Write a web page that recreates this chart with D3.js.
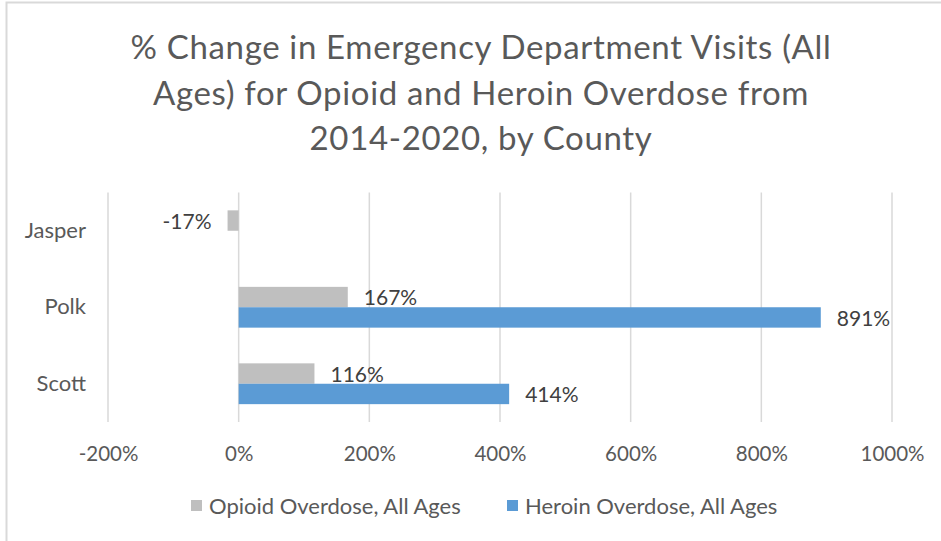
<!DOCTYPE html>
<html>
<head>
<meta charset="utf-8">
<script src="https://cdn.jsdelivr.net/npm/d3@7"></script>
<style>
  html, body { margin: 0; padding: 0; background: #fff; }
  svg { display: block; font-family: Lato, "Open Sans", sans-serif; }
</style>
</head>
<body>
<svg id="chart" width="941" height="541"></svg>
<script>
// County order top to bottom
const counties = ["Jasper", "Polk", "Scott"];
// % change 2014-2020 (null = no value reported)
const opioidValues = [-17, 167, 116];
const heroinValues = [null, 891, 414];
const seriesNames = ["Opioid Overdose, All Ages", "Heroin Overdose, All Ages"];
const seriesColors = ["#BFBFBF", "#5B9BD5"];
const xTicks = [-200, 0, 200, 400, 600, 800, 1000];
const titleLines = [
  "% Change in Emergency Department Visits (All",
  "Ages) for Opioid and Heroin Overdose from",
  "2014-2020, by County"
];

const svg = d3.select("#chart");

// Chart frame
svg.append("rect")
  .attr("x", 6.5).attr("y", 2.5)
  .attr("width", 960).attr("height", 560)
  .attr("fill", "#fff").attr("stroke", "#D9D9D9").attr("stroke-width", 2);

// Title
svg.append("g").selectAll("text")
  .data(titleLines)
  .join("text")
  .attr("x", 481)
  .attr("y", (d, i) => 59 + i * 45.5)
  .attr("text-anchor", "middle")
  .attr("font-size", 33)
  .attr("letter-spacing", 0.65)
  .attr("fill", "#595959")
  .text(d => d);

const plot = { left: 108, right: 892, top: 192.5, bottom: 422 };

const x = d3.scaleLinear().domain([-200, 1000]).range([plot.left, plot.right]);
const y = d3.scaleBand().domain(counties).range([plot.top, plot.bottom]).paddingInner(0).paddingOuter(0);
const barH = 20.4;

// Gridlines
svg.append("g").selectAll("line")
  .data(xTicks)
  .join("line")
  .attr("x1", d => x(d)).attr("x2", d => x(d))
  .attr("y1", plot.top).attr("y2", plot.bottom)
  .attr("stroke", "#D9D9D9").attr("stroke-width", 1.5);

// X axis labels
const xAxis = d3.axisBottom(x).tickValues(xTicks).tickSize(0).tickPadding(0).tickFormat(d => d + "%");
const gx = svg.append("g").attr("transform", `translate(0,${plot.bottom + 24})`).call(xAxis);
gx.select(".domain").remove();
gx.selectAll("text").attr("font-size", 20.5).attr("fill", "#595959").attr("font-family", "Lato, sans-serif");

// Y axis labels
const yAxis = d3.axisLeft(y).tickSize(0).tickPadding(0);
const gy = svg.append("g").attr("transform", `translate(86,0)`).call(yAxis);
gy.select(".domain").remove();
gy.selectAll("text").attr("font-size", 22).attr("fill", "#595959").attr("font-family", "Lato, sans-serif");

// Bars
const rows = counties.map((c, i) => [
  { county: c, s: 0, v: opioidValues[i] },
  { county: c, s: 1, v: heroinValues[i] }
]).flat().filter(d => d.v !== null);

const center = d => y(d.county) + y.bandwidth() / 2;
const barY = d => center(d) - barH + d.s * barH;

svg.append("g").selectAll("rect")
  .data(rows)
  .join("rect")
  .attr("x", d => Math.min(x(0), x(d.v)))
  .attr("width", d => Math.abs(x(d.v) - x(0)))
  .attr("y", barY)
  .attr("height", barH)
  .attr("fill", d => seriesColors[d.s]);

// Data labels
svg.append("g").selectAll("text")
  .data(rows)
  .join("text")
  .attr("x", d => d.v >= 0 ? x(d.v) + 16 : x(d.v) - 16)
  .attr("y", d => barY(d) + barH / 2 + 1)
  .attr("dy", "0.35em")
  .attr("text-anchor", d => d.v >= 0 ? "start" : "end")
  .attr("font-size", 21)
  .attr("fill", "#404040")
  .text(d => d.v + "%");

// Legend
const legend = svg.append("g");
const legendX = [191, 507];
seriesNames.forEach((name, i) => {
  legend.append("rect")
    .attr("x", legendX[i]).attr("y", 500)
    .attr("width", 11).attr("height", 11)
    .attr("fill", seriesColors[i]);
  legend.append("text")
    .attr("x", legendX[i] + 18).attr("y", 506)
    .attr("dy", "0.35em")
    .attr("font-size", 22)
    .attr("fill", "#595959")
    .text(name);
});
</script>
</body>
</html>
